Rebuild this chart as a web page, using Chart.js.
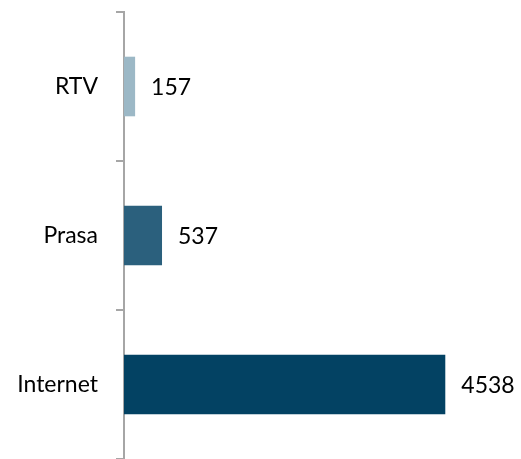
<!DOCTYPE html>
<html>
<head>
<meta charset="utf-8">
<script src="https://cdn.jsdelivr.net/npm/chart.js@4"></script>
<style>
  html, body { margin: 0; padding: 0; background: #ffffff; }
  #wrap { width: 521px; height: 459px; }
</style>
</head>
<body>
<div id="wrap"><canvas id="grafica" width="521" height="459"></canvas></div>
<script type="text/javascript">

    // categorias y valores
    var categorias = ["RTV", "Prasa", "Internet"]
    var valores = [157, 537, 4538]
    var colores = ["#9cb8c6", "#2b607d", "#034263"]

    var fuente = "Lato, 'Open Sans', sans-serif"

    // etiquetas de valor a la derecha de cada barra
    var etiquetasValor = {
        id: "etiquetasValor",
        afterDatasetsDraw: function(chart) {
            var ctx = chart.ctx
            var meta = chart.getDatasetMeta(0)
            ctx.save()
            ctx.font = "23px " + fuente
            ctx.fillStyle = "#000000"
            ctx.textAlign = "left"
            ctx.textBaseline = "middle"
            meta.data.forEach(function(bar, i) {
                ctx.fillText(String(valores[i]), bar.x + 16, bar.y + 1)
            })
            ctx.restore()
        }
    }

    var canvas = document.getElementById('grafica')
    var context = canvas.getContext('2d')

    window.bar = new Chart(context, {
        type: "bar",
        data: {
            labels: categorias,
            datasets: [{
                data: valores,
                backgroundColor: colores,
                borderWidth: 0,
                categoryPercentage: 1,
                barPercentage: 0.4
            }]
        },
        plugins: [etiquetasValor],
        options: {
            indexAxis: "y",
            responsive: false,
            animation: false,
            layout: { padding: { left: 0, right: 43, top: 12, bottom: 0 } },
            plugins: {
                legend: { display: false },
                tooltip: { enabled: false }
            },
            scales: {
                x: {
                    display: false,
                    min: 0,
                    max: 5000
                },
                y: {
                    afterFit: function(scale) {
                        scale.width = 124
                        scale.paddingTop = 0
                        scale.paddingBottom = 0
                    },
                    border: { display: true, color: "#a6a6a6", width: 2 },
                    grid: {
                        display: true,
                        drawOnChartArea: false,
                        drawTicks: true,
                        tickLength: 8,
                        color: "#a6a6a6",
                        lineWidth: 2,
                        offset: true
                    },
                    ticks: {
                        color: "#000000",
                        padding: 18,
                        font: { family: fuente, size: 23 }
                    }
                }
            }
        }
    });

</script>
</body>
</html>
